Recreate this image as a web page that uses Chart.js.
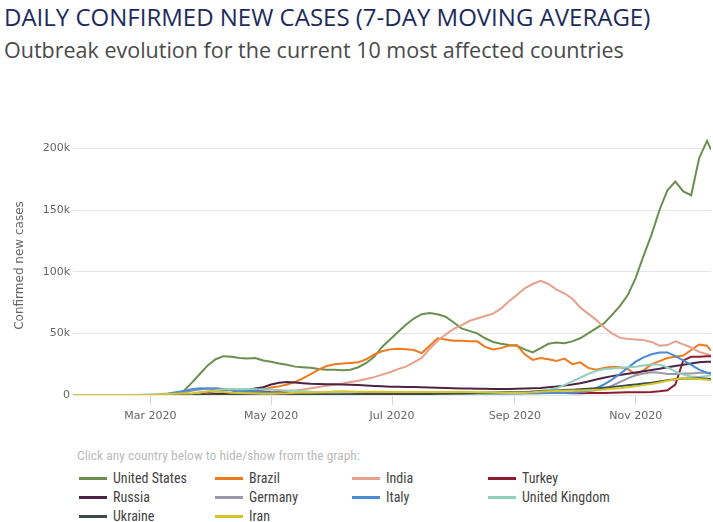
<!DOCTYPE html>
<html>
<head>
<meta charset="utf-8">
<title>Daily confirmed new cases</title>
<script src="https://cdn.jsdelivr.net/npm/chart.js@4.4.0/dist/chart.umd.min.js"></script>
<style>
  body {
    margin: 0;
    background: #fff;
    width: 713px;
    height: 522px;
    overflow: hidden;
    position: relative;
    font-family: "Open Sans", sans-serif;
  }
  #title {
    position: absolute; left: 4px; top: 0;
    font-size: 24px; line-height: 34px; color: #1d2b5c; white-space: nowrap;
  }
  #subtitle {
    position: absolute; left: 4px; top: 35px;
    font-size: 21.5px; line-height: 30px; color: #4a4a4a; white-space: nowrap;
  }
  #chartBox { position: absolute; left: 0; top: 80px; width: 713px; height: 350px; }
  .narrow { font-family: "Liberation Sans Narrow", "Arial Narrow", "Roboto Condensed", sans-serif; }
  #note { position: absolute; left: 77px; top: 447px; font-size: 13.5px; color: #bbb; white-space: nowrap; }
  .item { position: absolute; height: 18px; cursor: pointer; white-space: nowrap; font-size: 14px; color: #444; }
  .item .swatch { position: absolute; left: 0; top: 8px; width: 28px; height: 3px; }
  .item .label { position: absolute; left: 34px; top: 0; line-height: 18px; }
  .item.off { color: #ccc; }
  .item.off .swatch { background: #ccc !important; }
</style>
</head>
<body>
<div id="title">DAILY CONFIRMED NEW CASES (7-DAY MOVING AVERAGE)</div>
<div id="subtitle">Outbreak evolution for the current 10 most affected countries</div>
<div id="chartBox"><canvas id="casesChart"></canvas></div>
<div id="note" class="narrow">Click any country below to hide/show from the graph:</div>
<div id="legend" class="narrow"></div>

<script>
// days since 22 Jan 2020, one sample every 4 days
const days = [0, 4, 8, 12, 16, 20, 24, 28, 32, 36,
  40, 44, 48, 52, 56, 60, 64, 68, 72, 76,
  80, 84, 88, 92, 96, 100, 104, 108, 112, 116,
  120, 124, 128, 132, 136, 140, 144, 148, 152, 156,
  160, 164, 168, 172, 176, 180, 184, 188, 192, 196,
  200, 204, 208, 212, 216, 220, 224, 228, 232, 236,
  240, 244, 248, 252, 256, 260, 264, 268, 272, 276,
  280, 284, 288, 292, 296, 300, 304, 308, 312, 316,
  320, 322];

const tickDays = [39, 100, 161, 223, 284];
const tickLabels = ['Mar 2020', 'May 2020', 'Jul 2020', 'Sep 2020', 'Nov 2020'];
const yTicks = [0, 50, 100, 150, 200];

const countries = ['United States', 'Brazil', 'India', 'Turkey', 'Russia',
  'Germany', 'Italy', 'United Kingdom', 'Ukraine', 'Iran'];
const colors = ['#6b8f4e', '#ef7a1e', '#e6a08b', '#8e1c30', '#4b2447',
  '#9c98aa', '#4a8bd5', '#93cfbd', '#3c4d49', '#d8c52a'];

// values in thousands of cases
const usa = [0, 0, 0, 0, 0, 0, 0, 0, 0, 0,
  0.05, 0.1, 0.3, 0.8, 3.5, 10, 17, 24, 29, 31.5,
  31, 30, 29.5, 30, 28, 27, 25.5, 24.5, 23, 22.5,
  22, 21, 20.5, 20.5, 20, 20.5, 22.5, 26, 31, 39,
  45, 51, 57, 62, 65.5, 66.5, 65.5, 63.5, 59, 54,
  52, 50, 46, 43, 41.5, 40.5, 40, 37, 34.5, 38,
  41.5, 42.5, 42, 43.5, 46, 50, 54, 58, 65, 72,
  81, 95, 113, 130, 150, 166, 173, 165, 162, 192,
  206, 199];
const brazil = [0, 0, 0, 0, 0, 0, 0, 0, 0, 0,
  0, 0, 0, 0, 0.05, 0.1, 0.25, 0.4, 0.8, 1.1,
  1.3, 1.6, 2, 2.8, 4.5, 6, 7, 8.5, 10.5, 13.5,
  17, 20.5, 23.5, 25, 25.5, 26, 26.5, 29, 33, 35.5,
  37, 37.5, 37, 36.5, 34, 40, 46, 45, 44, 44,
  43.5, 43.5, 39, 37, 38, 40, 40.5, 33, 28.5, 30,
  29, 27.5, 29.5, 25, 26.5, 22, 20.5, 22, 23, 22.5,
  21, 17, 20, 25, 27.5, 30, 31, 32, 36.5, 41,
  40, 36];
const india = [0, 0, 0, 0, 0, 0, 0, 0, 0, 0,
  0, 0, 0, 0, 0, 0.05, 0.08, 0.1, 0.3, 0.5,
  0.7, 0.9, 1.2, 1.4, 1.6, 1.9, 2.7, 3.3, 3.6, 4.4,
  5.5, 6.5, 7.5, 8.3, 9.3, 10.5, 11.5, 13, 14.5, 16.5,
  18.5, 21, 23, 26.5, 30, 37.5, 44, 49, 53.5, 56.5,
  60, 62, 64, 66, 70, 76, 81, 86.5, 90, 92.5,
  90, 85.5, 82.5, 78, 71, 66, 61, 55, 50, 46.5,
  45.5, 45, 44.5, 43, 40, 40.5, 43.5, 41, 38.5, 35,
  33, 32];
const turkey = [0, 0, 0, 0, 0, 0, 0, 0, 0, 0,
  0, 0, 0, 0, 0.05, 0.3, 1.2, 2.2, 3, 3.6,
  4.2, 4.3, 4.1, 3.5, 2.9, 2.3, 2, 1.7, 1.5, 1.3,
  1.1, 0.95, 0.9, 0.9, 0.95, 1, 1.3, 1.4, 1.3, 1.2,
  1.2, 1.15, 1.1, 1, 0.95, 0.95, 0.95, 0.98, 1, 1,
  1.1, 1.2, 1.2, 1.25, 1.3, 1.4, 1.5, 1.6, 1.7, 1.7,
  1.7, 1.7, 1.6, 1.5, 1.5, 1.6, 1.6, 1.7, 1.8, 2,
  2.2, 2.2, 2.3, 2.5, 3, 3.8, 8.5, 28, 31, 31,
  31.5, 31.5];
const russia = [0, 0, 0, 0, 0, 0, 0, 0, 0, 0,
  0, 0, 0, 0, 0, 0, 0, 0.5, 0.8, 1.2,
  1.8, 2.8, 4, 5.2, 6.3, 8.5, 10, 10.5, 10.2, 9.6,
  9.1, 8.9, 8.8, 8.7, 8.6, 8.4, 8.1, 7.7, 7.3, 7,
  6.7, 6.6, 6.5, 6.4, 6.2, 6, 5.8, 5.6, 5.4, 5.3,
  5.2, 5.1, 5, 4.9, 4.9, 4.9, 5, 5.2, 5.4, 5.7,
  6.2, 6.8, 7.6, 8.5, 9.6, 11, 12.5, 14, 15.3, 16.3,
  17.2, 18.2, 19.2, 20.3, 21.3, 22.5, 23.6, 24.5, 25.5, 26.5,
  27, 27];
const germany = [0, 0, 0, 0, 0, 0, 0, 0, 0, 0,
  0.05, 0.1, 0.2, 0.8, 2, 3.5, 4.5, 5.3, 5.6, 4.8,
  4, 3.1, 2.2, 1.7, 1.2, 1, 0.9, 0.8, 0.7, 0.6,
  0.5, 0.45, 0.4, 0.35, 0.35, 0.35, 0.4, 0.6, 0.55, 0.5,
  0.45, 0.4, 0.4, 0.4, 0.45, 0.5, 0.6, 0.7, 0.8, 0.9,
  1.1, 1.2, 1.3, 1.4, 1.3, 1.3, 1.3, 1.4, 1.5, 1.6,
  1.7, 1.8, 2, 2.1, 2.4, 3, 3.8, 5, 7.5, 10.5,
  13.5, 16, 17.5, 18.5, 18, 17, 17, 17.5, 17.5, 18,
  18, 18];
const italy = [0, 0, 0, 0, 0, 0, 0, 0, 0.05, 0.15,
  0.3, 0.6, 1.2, 2.2, 3.3, 4.6, 5.4, 5.2, 4.7, 4.2,
  3.9, 3.4, 3.1, 2.8, 2.3, 1.8, 1.4, 1.1, 0.9, 0.75,
  0.65, 0.55, 0.45, 0.35, 0.3, 0.28, 0.27, 0.25, 0.22, 0.2,
  0.2, 0.2, 0.2, 0.2, 0.21, 0.22, 0.25, 0.27, 0.3, 0.35,
  0.45, 0.55, 0.75, 1, 1.2, 1.3, 1.35, 1.4, 1.45, 1.5,
  1.55, 1.6, 1.65, 1.8, 2.3, 3.5, 5.5, 8.5, 12.5, 17,
  22, 27, 30.5, 33, 34.5, 34.5, 31.5, 28, 24.5, 20.5,
  18, 17];
const uk = [0, 0, 0, 0, 0, 0, 0, 0, 0, 0,
  0, 0, 0, 0.05, 0.3, 0.8, 1.8, 3, 3.9, 4.4,
  4.8, 4.7, 4.8, 4.7, 4.4, 4.2, 4, 3.7, 3.5, 3.1,
  2.7, 2.3, 2, 1.8, 1.5, 1.3, 1.2, 1.1, 1, 0.9,
  0.8, 0.75, 0.7, 0.65, 0.65, 0.7, 0.75, 0.8, 0.8, 0.85,
  0.95, 1, 1.1, 1.1, 1.2, 1.3, 1.5, 2, 2.8, 3.4,
  4.2, 5.5, 8, 11, 14, 17, 19.5, 21, 21.5, 22,
  22.5, 23, 24, 25, 24.5, 22.5, 19, 16.5, 15, 14.5,
  15.5, 16];
const ukraine = [0, 0, 0, 0, 0, 0, 0, 0, 0, 0,
  0, 0, 0, 0, 0, 0, 0, 0, 0.1, 0.2,
  0.3, 0.35, 0.4, 0.45, 0.45, 0.45, 0.45, 0.45, 0.45, 0.45,
  0.45, 0.4, 0.45, 0.5, 0.6, 0.7, 0.8, 0.85, 0.9, 0.9,
  0.9, 0.85, 0.8, 0.8, 0.85, 0.9, 1, 1.1, 1.2, 1.3,
  1.4, 1.6, 1.8, 2, 2.2, 2.4, 2.4, 2.5, 2.7, 3,
  3.3, 3.6, 4, 4.3, 4.6, 5, 5.4, 5.9, 6.4, 7.2,
  8, 8.6, 9.3, 10, 11, 12, 12.8, 13.3, 13.4, 13.5,
  13.2, 13];
const iran = [0, 0, 0, 0, 0, 0, 0, 0, 0.02, 0.1,
  0.3, 0.6, 0.9, 1.1, 1.2, 1.3, 2.2, 2.9, 2.8, 2.4,
  1.9, 1.6, 1.4, 1.2, 1.1, 1.1, 1.2, 1.4, 1.8, 2,
  2.1, 2.2, 2.5, 2.9, 3, 2.8, 2.6, 2.6, 2.6, 2.6,
  2.5, 2.5, 2.5, 2.4, 2.4, 2.4, 2.5, 2.5, 2.5, 2.5,
  2.4, 2.3, 2.2, 2.2, 2.1, 2, 2, 2.1, 2.3, 2.7,
  3.1, 3.3, 3.4, 3.6, 3.7, 3.9, 4.2, 4.5, 5, 5.5,
  6.3, 7, 8, 9, 10.2, 11.5, 12.8, 13.5, 13.3, 13,
  12.3, 12];

const seriesValues = [usa, brazil, india, turkey, russia, germany, italy, uk, ukraine, iran];

const axisFont = { family: '"DejaVu Sans", Verdana, sans-serif', size: 11 };

const datasets = countries.map((name, i) => ({
  label: name,
  data: seriesValues[i].map((v, k) => ({ x: days[k], y: v })),
  borderColor: colors[i],
  backgroundColor: colors[i],
  borderWidth: 2,
  pointRadius: 0,
  pointHoverRadius: 3,
  tension: 0,
  // later countries drawn on top, like the original
  order: countries.length - i
}));

const chart = new Chart(document.getElementById('casesChart'), {
  type: 'line',
  data: { datasets: datasets },
  options: {
    responsive: true,
    maintainAspectRatio: false,
    animation: false,
    layout: { padding: { top: 56, right: 2, left: 0, bottom: 0 } },
    interaction: { mode: 'index', intersect: false },
    plugins: {
      legend: { display: false },
      tooltip: {
        callbacks: {
          title: items => 'Day ' + items[0].parsed.x,
          label: item => item.dataset.label + ': ' + Math.round(item.parsed.y * 1000).toLocaleString('en-US')
        }
      }
    },
    scales: {
      x: {
        type: 'linear',
        min: 0,
        max: 322,
        afterBuildTicks: scale => { scale.ticks = tickDays.map(v => ({ value: v })); },
        afterFit: scale => { scale.height = 35; },
        grid: { drawOnChartArea: false, color: '#ccd6eb', tickLength: 10 },
        border: { display: false },
        ticks: {
          color: '#666',
          font: axisFont,
          padding: 5,
          autoSkip: false,
          maxRotation: 0,
          callback: (v, idx) => tickLabels[idx]
        }
      },
      y: {
        min: 0,
        max: 210,
        afterBuildTicks: scale => { scale.ticks = yTicks.map(v => ({ value: v })); },
        afterFit: scale => { scale.width = 73; },
        grid: { color: '#e6e6e6', drawTicks: false },
        border: { display: false },
        ticks: {
          color: '#666',
          font: axisFont,
          padding: 3,
          callback: v => v === 0 ? '0' : v + 'k'
        },
        title: {
          display: true,
          text: 'Confirmed new cases',
          color: '#666',
          font: { family: '"DejaVu Sans", Verdana, sans-serif', size: 12 },
          padding: { top: 13, bottom: 0 }
        }
      }
    }
  }
});

// html legend, 4 columns
const colX = [79, 215, 352, 488];
const rowY = [469, 488, 507];
const legend = document.getElementById('legend');
countries.forEach((name, i) => {
  const item = document.createElement('div');
  item.className = 'item';
  item.style.left = colX[i % 4] + 'px';
  item.style.top = rowY[Math.floor(i / 4)] + 'px';
  item.innerHTML = '<span class="swatch" style="background:' + colors[i] + '"></span>' +
    '<span class="label">' + name + '</span>';
  item.addEventListener('click', () => {
    const visible = chart.isDatasetVisible(i);
    chart.setDatasetVisibility(i, !visible);
    item.classList.toggle('off', visible);
    chart.update();
  });
  legend.appendChild(item);
});
</script>
</body>
</html>
